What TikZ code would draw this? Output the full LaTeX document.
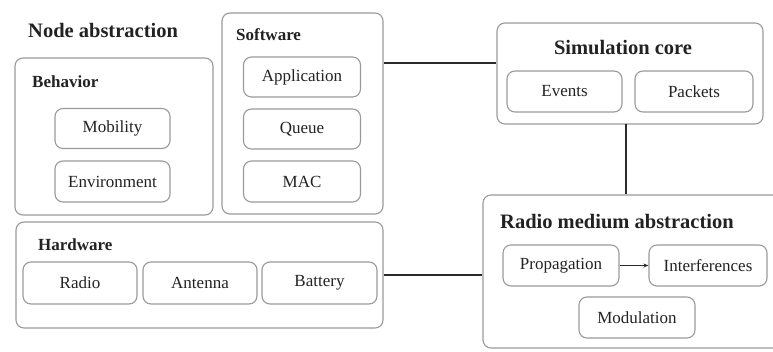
\documentclass[tikz,border=0pt]{standalone}
\usepackage{fontspec}
\setmainfont{Liberation Serif}
\usetikzlibrary{arrows.meta}
\definecolor{boxline}{HTML}{9A9A9A}
\definecolor{conn}{HTML}{2A2A2A}
\definecolor{txt}{HTML}{222222}
\tikzset{
  outerbox/.style={draw=boxline, line width=1.1pt, rounded corners=8pt, inner sep=0pt},
  innerbox/.style={draw=boxline, line width=1.1pt, rounded corners=8pt, inner sep=0pt,
    text=txt, font=\fontsize{17}{19}\selectfont},
  bigtitle/.style={text=txt, font=\fontsize{20.5}{23}\selectfont\bfseries, inner sep=0pt},
  smalltitle/.style={text=txt, font=\fontsize{17}{19}\selectfont\bfseries, inner sep=0pt},
  link/.style={draw=conn, line width=1.2pt}
}
\begin{document}
\begin{tikzpicture}[x=1pt,y=-1pt]
\useasboundingbox (0,0) rectangle (773,351);
\clip (0,0) rectangle (773,351);
% outer boxes
\node[outerbox, minimum width=198pt, minimum height=157pt] (behavior) at (114,136.5) {};
\node[outerbox, minimum width=161pt, minimum height=201pt] (software) at (302.5,113.5) {};
\node[outerbox, minimum width=367pt, minimum height=106pt] (hardware) at (199.5,275) {};
\node[outerbox, minimum width=266pt, minimum height=101pt] (simcore) at (630,73.5) {};
\node[outerbox, minimum width=327pt, minimum height=153pt] (radiomed) at (646.5,271.5) {};
% titles
\node[bigtitle, anchor=west] (tnode) at (28,30) {Node abstraction};
\node[smalltitle, anchor=west] (tbeh) at (32,82) {Behavior};
\node[smalltitle, anchor=west] (tsoft) at (236,35) {Software};
\node[smalltitle, anchor=west] (thard) at (38,245) {Hardware};
\node[bigtitle] (tsim) at (623,48) {Simulation core};
\node[bigtitle, anchor=west] (trad) at (500,222) {Radio medium abstraction};
% inner boxes
\node[innerbox, minimum width=115pt, minimum height=40pt] (mobility) at (112.5,128.5) {Mobility};
\node[innerbox, minimum width=115pt, minimum height=41pt] (environment) at (112.5,181.5) {Environment};
\node[innerbox, minimum width=117pt, minimum height=40pt] (application) at (302,77) {Application};
\node[innerbox, minimum width=117pt, minimum height=40pt] (queue) at (302,129) {Queue};
\node[innerbox, minimum width=117pt, minimum height=41pt] (mac) at (302,181.5) {MAC};
\node[innerbox, minimum width=114pt, minimum height=42pt] (radio) at (80,283) {Radio};
\node[innerbox, minimum width=114pt, minimum height=42pt] (antenna) at (200,283) {Antenna};
\node[innerbox, minimum width=115pt, minimum height=42pt] (battery) at (319.5,283) {Battery};
\node[innerbox, minimum width=115pt, minimum height=41pt] (events) at (564.5,91.5) {Events};
\node[innerbox, minimum width=118pt, minimum height=41pt] (packets) at (694,91.5) {Packets};
\node[innerbox, minimum width=116pt, minimum height=41pt] (propagation) at (561,265.5) {Propagation};
\node[innerbox, minimum width=118pt, minimum height=41pt] (interferences) at (708,265.5) {Interferences};
\node[innerbox, minimum width=116pt, minimum height=41pt] (modulation) at (637,317.5) {Modulation};
% connectors
\draw[link] ([yshift=10.5pt]simcore.west) -- ([yshift=10.5pt]simcore.west -| software.east);
\draw[link] (626,124) coordinate (cs) -- (cs |- radiomed.north);
\draw[link] (hardware.east) -- (hardware.east -| radiomed.west);
\draw[draw=conn, line width=1pt, -{Stealth[length=5pt,width=4pt]}] (propagation.east) -- (interferences.west);
\end{tikzpicture}
\end{document}
